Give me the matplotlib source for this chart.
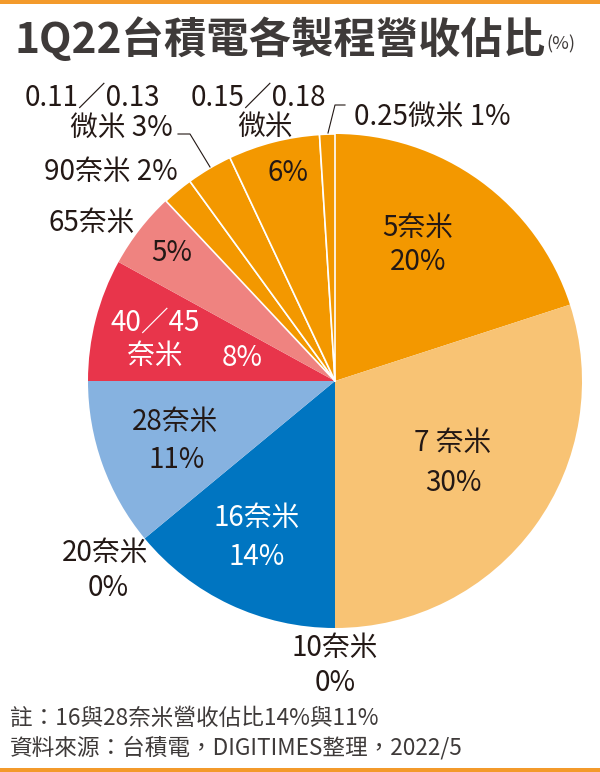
import matplotlib.pyplot as plt

plt.rcParams['font.family'] = ['Noto Sans CJK TC', 'DejaVu Sans']

# 資料
names = ['5奈米', '7奈米', '10奈米', '16奈米', '20奈米', '28奈米', '40／45奈米',
         '65奈米', '90奈米', '0.11／0.13微米', '0.15／0.18微米', '0.25微米']
shares = [20, 30, 0, 14, 0, 11, 8, 5, 2, 3, 6, 1]
colors = ['#F39800', '#F8C374', '#F8C374', '#0075C1', '#86B2E0', '#86B2E0',
          '#E8354B', '#EF8380', '#F39800', '#F39800', '#F39800', '#F39800']

title = '1Q22台積電各製程營收佔比'
notes = ['註：16與28奈米營收佔比14%與11%',
         '資料來源：台積電，DIGITIMES整理，2022/5']

W, H = 600, 772
DARK = '#231815'
GREY = '#3E3A39'

fig = plt.figure(figsize=(W / 100, H / 100), dpi=100)
ax = fig.add_axes([0, 0, 1, 1])

# 圓餅 (像素座標, 由上往下)
cx, cy, r = 335, 381, 247
wedges, _ = ax.pie(shares, colors=colors, startangle=90, counterclock=False,
                   center=(cx, H - cy), radius=r, frame=True,
                   wedgeprops=dict(linewidth=0))
for w in wedges[8:]:
    w.set_edgecolor('white')
    w.set_linewidth(1.2)
    w.set_joinstyle('round')

ax.set_xlim(0, W)
ax.set_ylim(0, H)
ax.set_aspect('equal')
ax.axis('off')


def put(s, x, y, color=DARK, size=20, ha='center', **kw):
    ax.text(x, H - y, s, color=color, fontsize=size, ha=ha, va='center',
            fontweight='light', **kw)


pct = [f'{v}%' for v in shares]

# 圓內標籤
put(names[0], 418, 228)
put(pct[0], 418, 262)
put('7 奈米', 453, 443)
put(pct[1], 453, 483)
put(names[3], 257, 518, color='white')
put(pct[3], 257, 557, color='white')
put(names[5], 175, 422)
put(pct[5], 177, 460)
put('40／45', 155, 323, color='white')
put('奈米', 155, 356, color='white')
put(pct[6], 242, 358, color='white')
put(pct[7], 172, 253)
put(pct[10], 288, 173)

# 圓外標籤
put(names[2], 335, 648)
put(pct[2], 335, 683)
put(names[4], 148, 553, ha='right')
put(pct[4], 108, 588)
put(names[7], 135, 223, ha='right')
put(f'{names[8]} {pct[8]}', 178, 172, ha='right')
put('0.11／0.13', 160, 98, ha='right')
put(f'微米 {pct[9]}', 173, 128, ha='right')
put('0.15／0.18', 258, 98)
put('微米', 265, 127)
put(f'{names[11]} {pct[11]}', 354, 117, ha='left')

# 引線
ax.plot([178, 190, 210], [H - 134, H - 134, H - 167], color=DARK, lw=0.8)
ax.plot([345, 335, 328], [H - 105, H - 105, H - 133], color=DARK, lw=0.8)

# 標題與註
ax.text(14, H - 40, title, fontsize=30.5, fontweight='bold', color=GREY,
        ha='left', va='center')
ax.text(546, H - 44, '(%)', fontsize=13, color=GREY, ha='left', va='center')
ax.text(10, H - 718, notes[0], fontsize=16.3, color=GREY, ha='left', va='center')
ax.text(10, H - 748, notes[1], fontsize=16.3, color=GREY, ha='left', va='center')

# 上下橘色邊條
ax.axhspan(H - 4, H, color='#F39A2B', lw=0)
ax.axhspan(0, 4, color='#F39A2B', lw=0)

fig.savefig('out.png', dpi=100)
